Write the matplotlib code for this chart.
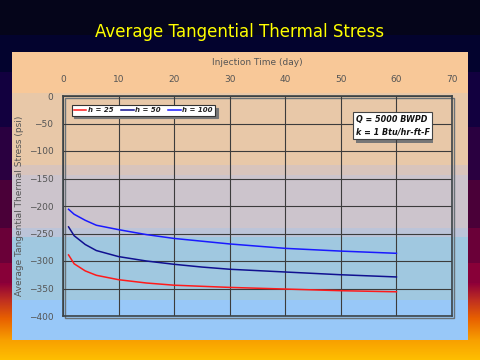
import numpy as np
import matplotlib
matplotlib.use("Agg")
import matplotlib.pyplot as plt
from matplotlib.colors import to_rgb
from matplotlib.patches import Rectangle

# --- data ---
days = [1, 2, 4, 6, 10, 15, 20, 25, 30, 40, 50, 60]
stress_h25 = [-289, -305, -318, -326, -334, -340, -344, -346, -348, -351, -354, -356]
stress_h50 = [-238, -254, -270, -281, -292, -300, -306, -311, -315, -320, -325, -329]
stress_h100 = [-206, -215, -226, -235, -243, -252, -259, -264, -269, -277, -282, -286]
series = [("h = 25", stress_h25, "#ff1a1a"),
          ("h = 50", stress_h50, "#101090"),
          ("h = 100", stress_h100, "#1a1aff")]
x_ticks = list(range(0, 80, 10))
y_ticks = list(range(0, -450, -50))

W, H = 480, 360
fig = plt.figure(figsize=(W / 100, H / 100), dpi=100)

# --- slide background: stepped bands then a warm gradient at the bottom ---
bands = [(0, "#05051a"), (35, "#03032e"), (72, "#12003f"), (127, "#2a0040"),
         (180, "#4a0038"), (228, "#6a0038"), (263, "#880038")]
stops = [(283, "#900038"), (300, "#c03020"), (318, "#e86000"), (340, "#f8a000"), (360, "#ffc000")]
img = np.zeros((H, 1, 3))
for i, (y0, c) in enumerate(bands):
    y1 = bands[i + 1][0] if i + 1 < len(bands) else stops[0][0]
    img[y0:y1, 0] = to_rgb(c)
ys = np.arange(stops[0][0], H)
sy = [s[0] for s in stops]
for ch in range(3):
    img[stops[0][0]:, 0, ch] = np.interp(ys, sy, [to_rgb(s[1])[ch] for s in stops])

bg = fig.add_axes([0, 0, 1, 1])
bg.imshow(img, aspect="auto", extent=[0, W, H, 0])
bg.set_xlim(0, W)
bg.set_ylim(H, 0)
bg.axis("off")

# chart panel bands
panel = [(52, 93, "#f8c898"), (93, 165, "#e8c8a8"), (165, 175, "#d8c4bc"),
         (175, 228, "#ccc4cc"), (228, 237, "#bcc4d8"), (237, 300, "#a0c8e0"),
         (300, 340, "#98c8f8")]
for y0, y1, c in panel:
    bg.add_patch(Rectangle((12, y0), 456, y1 - y0, facecolor=c, edgecolor="none"))
# frame shadow
bg.add_patch(Rectangle((64.5, 97.5), 389, 220, facecolor="none", edgecolor="#6a7278", lw=1.0))
# text box shadow
bg.add_patch(Rectangle((356, 117), 77, 26, facecolor="#777777", edgecolor="none"))

fig.text(0.5, 1 - 32 / H, "Average Tangential Thermal Stress", color="#ffff00",
         fontsize=12, ha="center", va="center", family="DejaVu Sans")

# --- plot ---
ax = fig.add_axes([63 / W, 1 - 316 / H, 389 / W, 220 / H])
ax.patch.set_alpha(0)
for label, vals, color in series:
    ax.plot(days, vals, color=color, lw=1.1, label=label)

ax.set_xlim(0, 70)
ax.set_ylim(-400, 0)
ax.set_xticks(x_ticks)
ax.set_yticks(y_ticks)
ax.xaxis.tick_top()
ax.xaxis.set_label_position("top")
ax.tick_params(length=0, labelsize=6.5, labelcolor="#555555", pad=9)
ax.tick_params(axis="y", pad=7)
ax.grid(True, color="#3c3c3c", lw=0.8)
for s in ax.spines.values():
    s.set_color("#3c4448")
    s.set_linewidth(1.2)
ax.set_xlabel("Injection Time (day)", fontsize=6.5, color="#555555", labelpad=7)
ax.set_ylabel("Average Tangential Thermal Stress (psi)", fontsize=6.5, color="#555555",
              labelpad=3)

leg = ax.legend(loc="upper left", bbox_to_anchor=(0.022, 0.96), ncol=3, fancybox=False,
                shadow={"color": "#777777", "alpha": 1}, framealpha=1, edgecolor="#333333",
                prop={"size": 5, "weight": "bold", "style": "italic"}, handlelength=1.8,
                handletextpad=0.2, columnspacing=1.1, borderpad=0.35, borderaxespad=0)
leg.get_frame().set_linewidth(0.8)
for t in leg.get_texts():
    t.set_color("#222222")

ax.text(0.752, 0.915, "Q = 5000 BWPD\nk = 1 Btu/hr-ft-F", transform=ax.transAxes,
        fontsize=5.8, fontweight="bold", style="italic", color="#111111", va="top",
        linespacing=1.5,
        bbox=dict(boxstyle="square,pad=0.3", facecolor="white", edgecolor="#444444", lw=0.8))

fig.savefig("out.png", dpi=100)
